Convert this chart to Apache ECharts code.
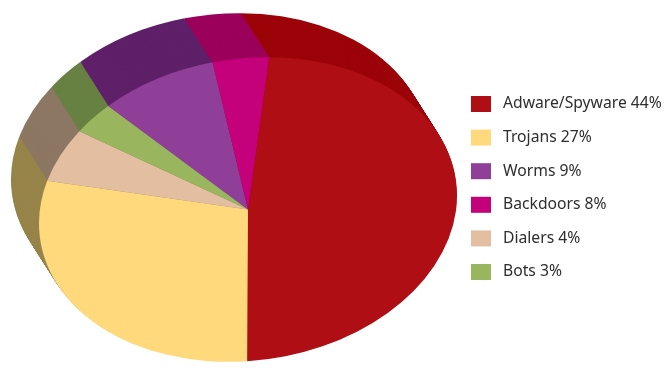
<!DOCTYPE html>
<html><head><meta charset="utf-8">
<style>html,body{margin:0;padding:0;background:#fff}#c{width:670px;height:380px}</style>
<script src="https://cdn.jsdelivr.net/npm/echarts@6/dist/echarts.min.js"></script>
</head><body><div id="c"></div>
<script>
// Slices in clockwise drawing order
const categories = ['Adware/Spyware','Trojans','Dialers','Bots','Worms','Backdoors'];
// Percentages printed in the legend
const percents = [44,27,4,3,9,8];
// Arc each slice occupies in the picture (degrees)
const arcDegrees = [174.4,105.9,20.1,11.8,32.2,15.6];
const topColors = ['#AF0F14','#FFD97C','#E4BEA0','#99B55E','#8F3F98','#C4007A'];
const sideColors = ['#9B0409','#97844A','#8C7762','#678142','#5F2069','#9B005B'];
const legendOrder = ['Adware/Spyware','Trojans','Worms','Backdoors','Dialers','Bots'];

const START_DEG = 11.6, CX = 248, CY = 209.5, RX = 210, RY = 151, TILT = 8 * Math.PI / 180;
const DX = -28, DY = -44, STEPS = 50;
const R = 100;
const levels = Array.from({length: STEPS + 1}, (_, i) => [i]);

const starts = [];
arcDegrees.reduce((acc, d, i) => (starts[i] = acc, acc + d), START_DEG);

function makeSeries(i) {
  return {
    type: 'custom', name: categories[i], silent: true, animation: false,
    coordinateSystem: 'none',
    itemStyle: {color: topColors[i]},
    data: levels,
    renderItem(params, api) {
      const lv = api.value(0), front = lv === STEPS, t = 1 - lv / STEPS;
      const a0 = (starts[i] - 90) * Math.PI / 180;
      const a1 = (starts[i] + arcDegrees[i] - 90) * Math.PI / 180;
      return {
        type: 'sector',
        x: CX + DX * t, y: CY + DY * t,
        scaleX: RX / R, scaleY: RY / R, rotation: TILT,
        originX: 0, originY: 0,
        z2: (front ? 1000 : lv * 10) + i,
        shape: {cx: 0, cy: 0, r0: 0, r: R, startAngle: a0, endAngle: a1, clockwise: true},
        style: {fill: front ? topColors[i] : sideColors[i], stroke: null}
      };
    }
  };
}

const chart = echarts.init(document.getElementById('c'), null, {renderer: 'canvas'});
chart.setOption({
  animation: false,
  backgroundColor: '#fff',
  legend: {
    orient: 'vertical', left: 466, top: 91,
    itemWidth: 20, itemHeight: 16, itemGap: 17.6, icon: 'rect',
    selectedMode: false,
    data: legendOrder,
    formatter: n => n + ' ' + percents[categories.indexOf(n)] + '%',
    textStyle: {fontFamily: 'Noto Sans', fontSize: 15.7, color: '#2e2e2e', padding: [0, 0, 0, 7]}
  },
  series: categories.map((_, i) => makeSeries(i))
});
</script></body></html>
